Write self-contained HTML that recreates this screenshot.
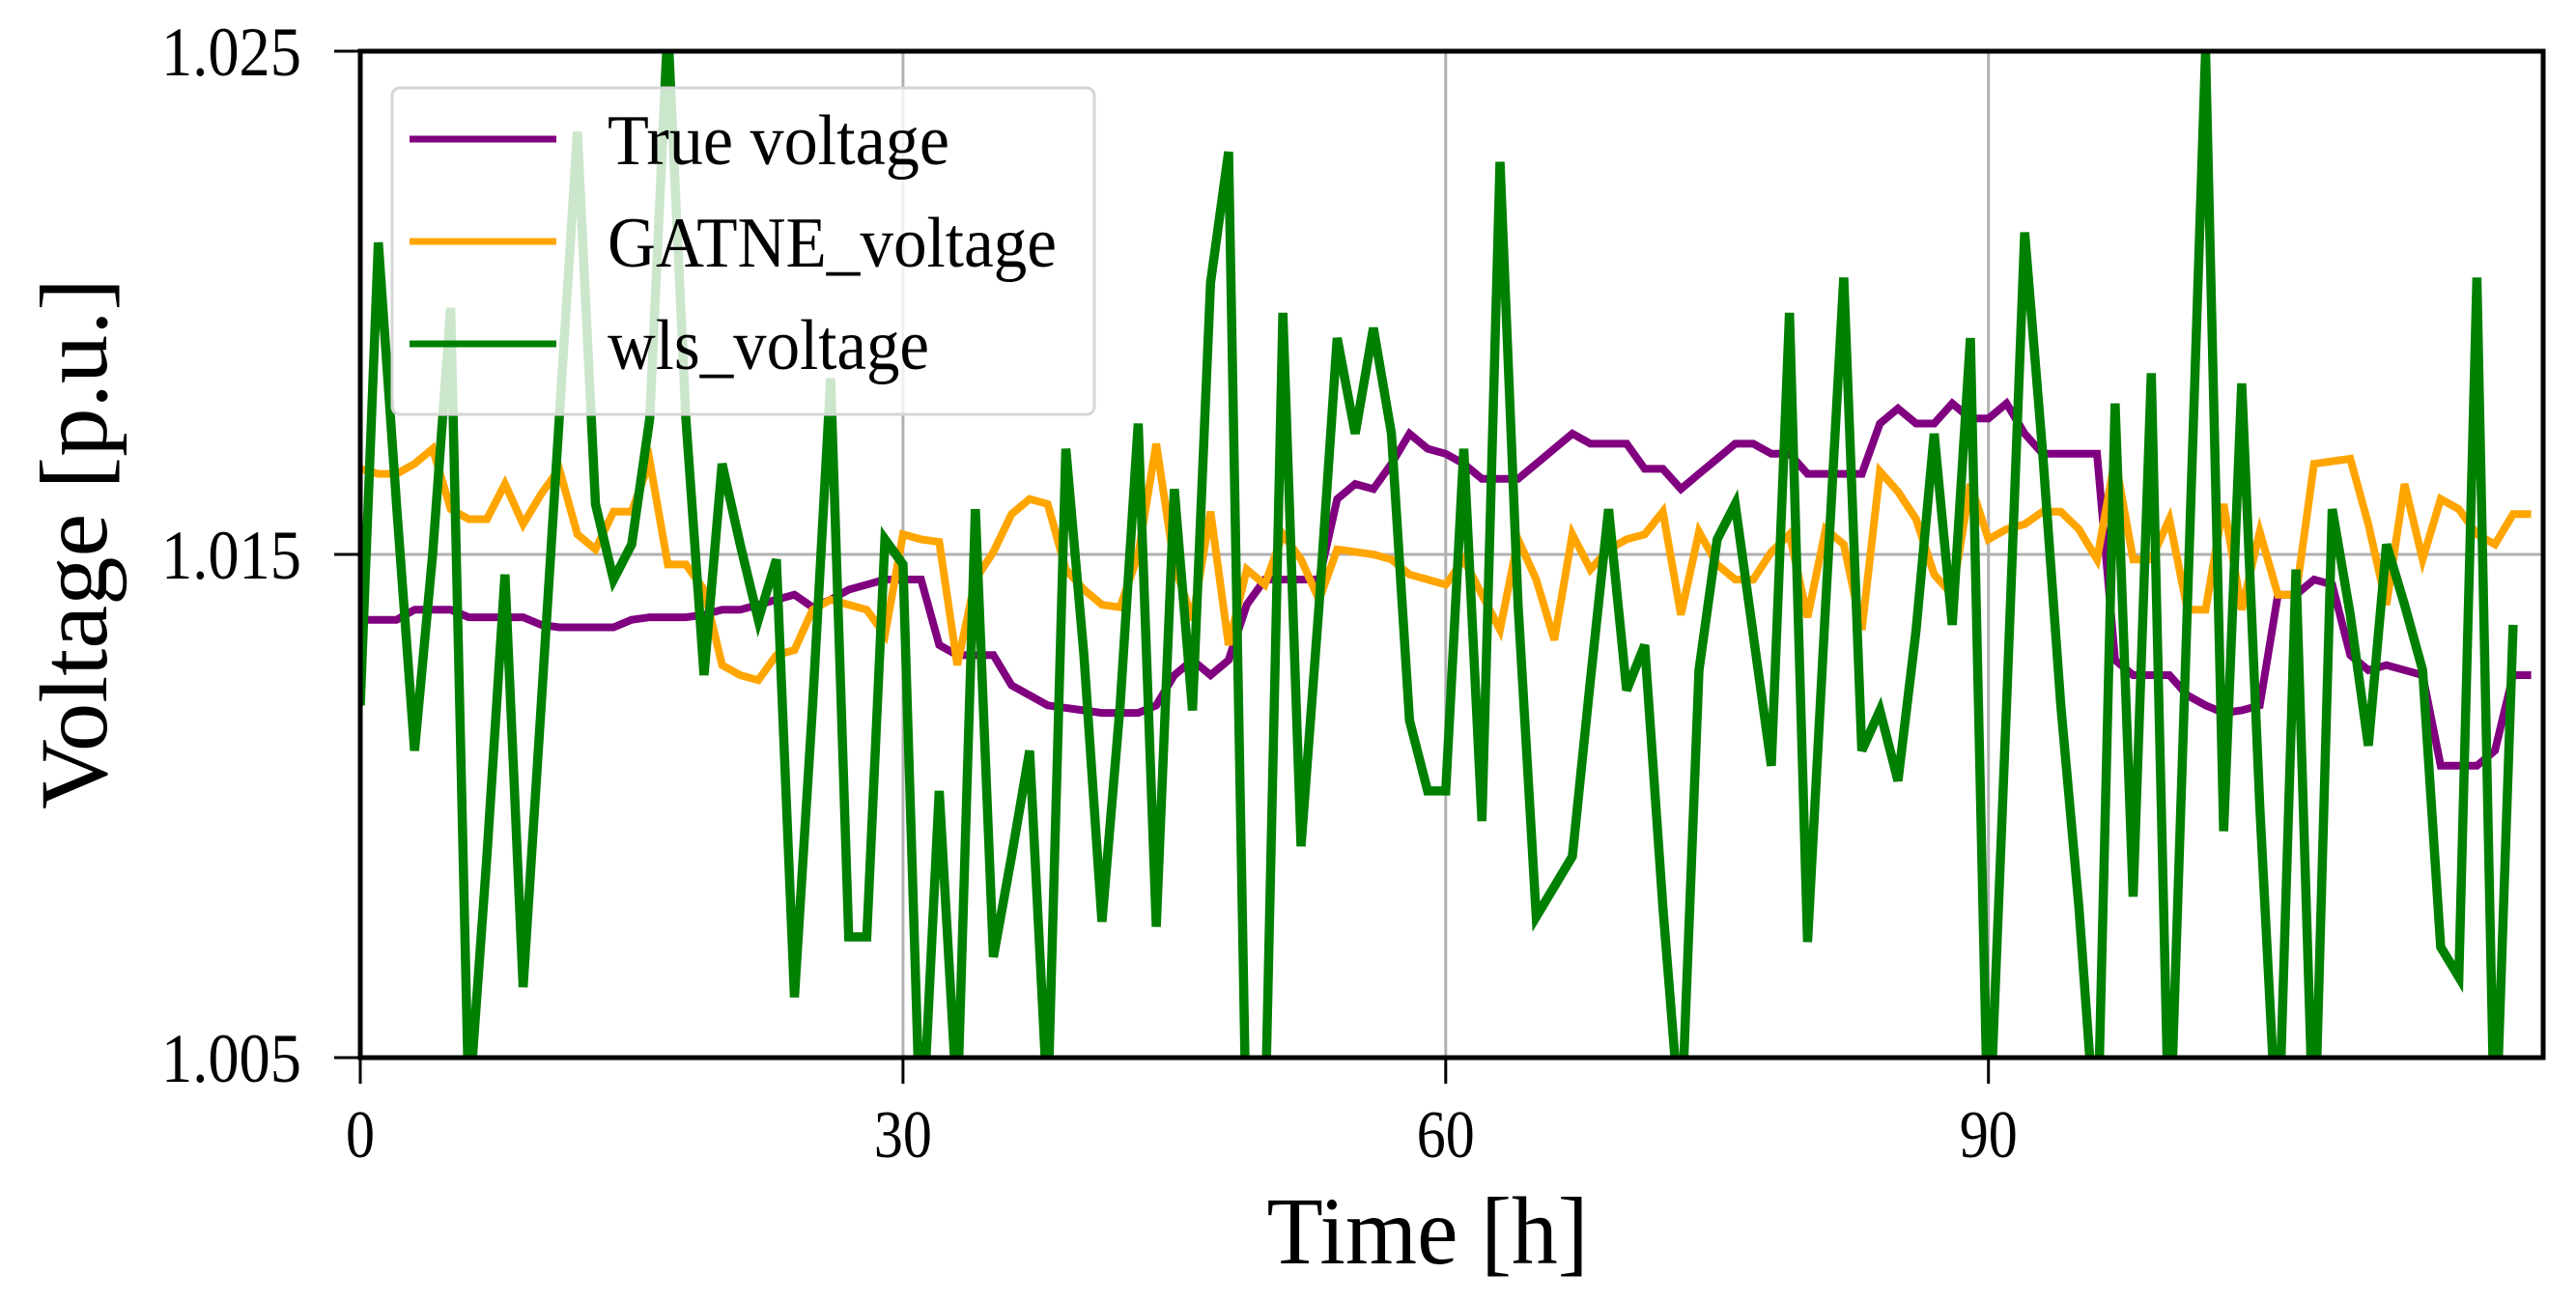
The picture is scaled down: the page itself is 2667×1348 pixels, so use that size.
<!DOCTYPE html>
<html><head><meta charset="utf-8"><style>
html,body{margin:0;padding:0;background:#fff;}
svg{display:block;}
text{font-family:"Liberation Serif","DejaVu Serif",serif;fill:#000;}
</style></head><body>
<svg id="chart" width="2667" height="1348" viewBox="0 0 2667 1348" xmlns="http://www.w3.org/2000/svg">
<defs><clipPath id="plotclip"><rect x="373" y="53" width="2260" height="1042"/></clipPath></defs>
<rect x="0" y="0" width="2667" height="1348" fill="#fff"/>
<g id="grid"></g>
<g id="series" clip-path="url(#plotclip)"></g>
<g id="axes"></g>
<g id="legend"></g>
<text x="1478" y="1308" font-size="100" text-anchor="middle" textLength="333" lengthAdjust="spacingAndGlyphs">Time [h]</text>
<text x="0" y="0" font-size="100" text-anchor="middle" textLength="550" lengthAdjust="spacingAndGlyphs" transform="translate(110,563) rotate(-90)">Voltage [p.u.]</text>
</svg>
<script>
const xTicks = [0, 30, 60, 90];
const yTicks = [1.005, 1.015, 1.025];
const yTickLabels = ["1.005", "1.015", "1.025"];
const seriesNames = ["True voltage", "GATNE_voltage", "wls_voltage"];
const trueVoltage = [13.7,13.7,13.7,13.9,13.9,13.9,13.75,13.75,13.75,13.75,13.6,13.55,13.55,13.55,13.55,13.7,13.75,13.75,13.75,13.8,13.9,13.9,14.0,14.1,14.2,13.95,14.1,14.3,14.4,14.5,14.5,
14.5,13.2,13.0,13.0,13.0,12.4,12.2,12.0,11.95,11.9,11.85,11.85,11.85,12.0,12.6,12.9,12.6,12.9,14.0,14.5,14.5,14.5,14.5,16.1,16.4,16.3,16.8,17.4,17.1,17.0,
16.8,16.5,16.5,16.5,16.8,17.1,17.4,17.2,17.2,17.2,16.7,16.7,16.3,16.6,16.9,17.2,17.2,17.0,17.0,16.6,16.6,16.6,16.6,17.6,17.9,17.6,17.6,18.0,17.7,17.7,
18.0,17.4,17.0,17.0,17.0,17.0,12.9,12.6,12.6,12.6,12.2,12.0,11.85,11.9,12.0,14.2,14.2,14.5,14.4,13.0,12.7,12.8,12.7,12.6,10.8,10.8,10.8,11.1,12.6,12.6];
const gatneVoltage = [16.7,16.6,16.6,16.8,17.1,15.9,15.7,15.7,16.4,15.6,16.2,16.7,15.4,15.1,15.85,15.85,16.85,14.8,14.8,14.3,12.8,12.6,12.5,13.0,13.1,13.9,14.1,14.0,13.9,13.4,15.4,
15.3,15.25,12.8,14.5,15.05,15.8,16.1,16.0,14.7,14.3,14.0,13.95,15.0,17.2,14.8,13.7,15.85,13.2,14.7,14.4,15.4,14.9,14.1,15.1,15.05,15.0,14.9,14.6,14.5,14.4,
14.9,14.2,13.5,15.3,14.5,13.3,15.4,14.7,15.1,15.3,15.4,15.85,13.8,15.45,14.8,14.5,14.5,15.05,15.4,13.75,15.5,15.2,13.5,16.65,16.25,15.7,14.6,14.2,16.4,15.3,
15.5,15.6,15.85,15.85,15.5,14.9,16.9,14.9,14.9,15.7,13.9,13.9,16.0,13.9,15.45,14.2,14.2,16.8,16.85,16.9,15.6,14.0,16.4,14.9,16.1,15.9,15.4,15.2,15.8,15.8];
const wlsVoltage = [12,21.2,16,11.1,15,19.9,4,9,14.6,6.4,12,17.7,23.4,16,14.5,15.2,17.7,25.5,17.7,12.6,16.8,15.2,13.7,14.9,6.2,12,18.5,7.4,7.4,15.3,14.8,
3,10.3,4,15.9,7,9,11.1,4,17.1,13,7.7,12,17.6,7.6,16.3,11.9,20.4,23,3,3.5,19.8,9.2,14,19.3,17.4,19.5,17.4,11.7,10.3,
10.3,17.1,9.7,22.8,14,7.8,8.4,9.0,12.5,15.9,12.3,13.2,8,3.5,12.7,15.3,16.0,13.4,10.8,19.8,7.3,14,20.5,11.1,11.9,10.5,13.5,17.4,13.6,19.3,
3,12,21.4,17,12,8,3,18.0,8.2,18.6,3,14,25.0,9.5,18.4,10,3,14.7,3,15.9,13.8,11.2,15.2,14,12.7,7.2,6.6,20.5,3,13.6];
const seriesColors = ["#800080", "#ffa500", "#008000"];

const NS = "http://www.w3.org/2000/svg";
const PL = 373, PR = 2633, PT = 53, PB = 1095;
const XMAX = (PR - PL) / 18.73;
function xs(h){ return PL + h * (PR - PL) / XMAX; }
function ys(v){ return PB - (v - 1.005) / 0.020 * (PB - PT); }
function mv(m){ return 1 + m / 1000; }
function mk(tag, attrs, parent){ const e = document.createElementNS(NS, tag); for (const k in attrs) e.setAttribute(k, attrs[k]); parent.appendChild(e); return e; }

const grid = document.getElementById('grid');
const axes = document.getElementById('axes');
const series = document.getElementById('series');
const legend = document.getElementById('legend');

xTicks.forEach(t => {
  const l = mk('line', {x1: xs(t), x2: xs(t), y1: PT, y2: PB, stroke: '#b0b0b0', 'stroke-width': 3}, grid);
  
  
  const tk = mk('line', {x1: xs(t), x2: xs(t), y1: PB, y2: PB + 27, stroke: '#000', 'stroke-width': 3}, axes);
  
  
  const s = String(t);
  const tx = mk('text', {x: xs(t), y: 1198, 'font-size': 70, 'text-anchor': 'middle', textLength: s.length * 30, lengthAdjust: 'spacingAndGlyphs'}, axes);
  tx.textContent = s;
  
  
});
yTicks.forEach((t, i) => {
  const l = mk('line', {x1: PL, x2: PR, y1: ys(t), y2: ys(t), stroke: '#b0b0b0', 'stroke-width': 3}, grid);
  
  
  const tk = mk('line', {x1: PL - 27, x2: PL, y1: ys(t), y2: ys(t), stroke: '#000', 'stroke-width': 3}, axes);
  
  
  const tx = mk('text', {x: 167, y: ys(t) + 25, 'font-size': 72, textLength: 145, lengthAdjust: 'spacingAndGlyphs'}, axes);
  tx.textContent = yTickLabels[i];
  
  
});

[trueVoltage, gatneVoltage, wlsVoltage].forEach((arr, si) => {
  const d = arr.map((m, i) => (i ? 'L' : 'M') + xs(i).toFixed(1) + ',' + ys(mv(m)).toFixed(1)).join(' ');
  const p = mk('path', {d: d, fill: 'none', stroke: seriesColors[si], 'stroke-width': si === 2 ? 9.5 : 8, 'stroke-linejoin': 'miter', 'stroke-miterlimit': 4}, series);
  
  
});

const frame = mk('rect', {x: PL, y: PT, width: PR - PL, height: PB - PT, fill: 'none', stroke: '#000', 'stroke-width': 5}, axes);



const lb = mk('rect', {x: 406, y: 91, width: 727, height: 338, rx: 8, fill: '#fff', 'fill-opacity': 0.8, stroke: '#d6d6d6', 'stroke-width': 3}, legend);


const legendWidths = [354, 465, 333];
seriesNames.forEach((n, i) => {
  const y = 144 + i * 106;
  const ln = mk('line', {x1: 424, x2: 576, y1: y, y2: y, stroke: seriesColors[i], 'stroke-width': 7}, legend);
  
  
  const tx = mk('text', {x: 629, y: y + 26, 'font-size': 74, textLength: legendWidths[i], lengthAdjust: 'spacingAndGlyphs'}, legend);
  tx.textContent = n;
  
  
});
</script>
</body></html>
